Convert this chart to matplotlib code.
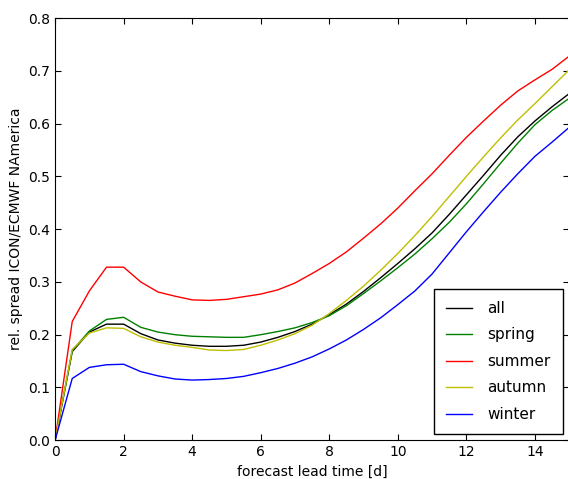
import numpy as np
import matplotlib
matplotlib.use("Agg")
import matplotlib.pyplot as plt

# lead time in days, 12h steps
lead = np.arange(0, 15.01, 0.5)

all_seasons = [0.0, 0.168, 0.205, 0.220, 0.220, 0.202, 0.190, 0.184, 0.180, 0.178, 0.178,
               0.180, 0.186, 0.195, 0.206, 0.220, 0.238, 0.258, 0.282, 0.308, 0.335,
               0.363, 0.393, 0.428, 0.465, 0.502, 0.540, 0.575, 0.605, 0.632, 0.657]
spring = [0.0, 0.170, 0.207, 0.229, 0.233, 0.214, 0.205, 0.200, 0.197, 0.196, 0.195,
          0.195, 0.200, 0.206, 0.213, 0.223, 0.236, 0.255, 0.278, 0.302, 0.327,
          0.353, 0.382, 0.413, 0.448, 0.486, 0.525, 0.563, 0.598, 0.625, 0.648]
summer = [0.0, 0.225, 0.283, 0.328, 0.328, 0.300, 0.281, 0.273, 0.266, 0.265, 0.267,
          0.272, 0.277, 0.285, 0.298, 0.316, 0.335, 0.357, 0.383, 0.410, 0.440,
          0.473, 0.505, 0.540, 0.574, 0.605, 0.635, 0.662, 0.683, 0.703, 0.728]
autumn = [0.0, 0.172, 0.203, 0.213, 0.212, 0.196, 0.186, 0.180, 0.176, 0.171, 0.170,
          0.172, 0.180, 0.190, 0.202, 0.218, 0.240, 0.265, 0.292, 0.322, 0.354,
          0.388, 0.424, 0.462, 0.500, 0.537, 0.573, 0.607, 0.638, 0.670, 0.702]
winter = [0.0, 0.117, 0.138, 0.143, 0.144, 0.130, 0.122, 0.116, 0.114, 0.115, 0.117,
          0.121, 0.128, 0.136, 0.146, 0.158, 0.173, 0.190, 0.210, 0.232, 0.257,
          0.283, 0.315, 0.355, 0.395, 0.433, 0.470, 0.505, 0.538, 0.565, 0.593]

series = [("all", all_seasons, "k"), ("spring", spring, "g"), ("summer", summer, "r"),
          ("autumn", autumn, "y"), ("winter", winter, "b")]

fig = plt.figure(figsize=(5.68, 4.79), dpi=100)
ax = fig.add_axes([0.097, 0.081, 0.905, 0.881])

for name, vals, col in series:
    ax.plot(lead, vals, color=col, lw=1.0, label=name)

ax.set_xlim(0, 15)
ax.set_ylim(0, 0.8)
ax.set_xticks(np.arange(0, 15, 2))
ax.set_yticks(np.arange(0, 0.81, 0.1))
ax.tick_params(direction="in", top=True, right=True, length=4, labelsize=10)
ax.set_xlabel("forecast lead time [d]", fontsize=10)
ax.set_ylabel("rel. spread ICON/ECMWF NAmerica", fontsize=10)

leg = ax.legend(loc="lower right", fancybox=False, framealpha=1, edgecolor="k",
                fontsize=11, labelspacing=0.75, borderaxespad=0.4, borderpad=0.8,
                handlelength=1.7, handletextpad=1.0)
leg.get_frame().set_linewidth(1.0)

fig.savefig("out.png", dpi=100, facecolor="white")
